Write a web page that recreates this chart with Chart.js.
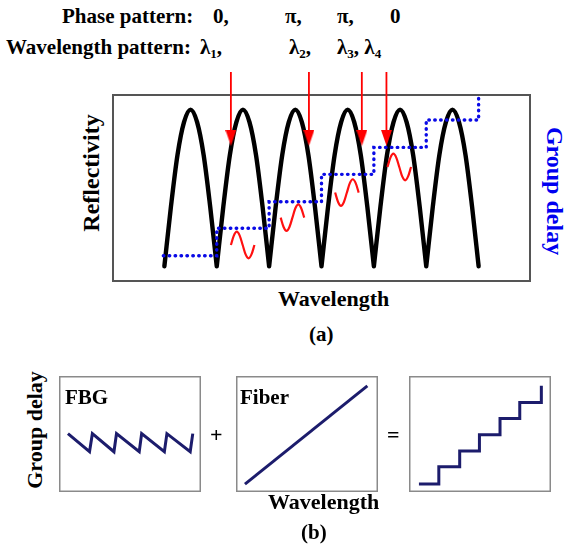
<!DOCTYPE html>
<html>
<head>
<meta charset="utf-8">
<script src="https://cdn.jsdelivr.net/npm/chart.js@4"></script>
<style>
    body { margin: 0; width: 564px; height: 548px; position: relative; overflow: hidden; background: #fff;
           font-family: "Liberation Serif", "Times New Roman", serif; font-weight: bold; color: #000; }
    .t { position: absolute; white-space: nowrap; }
    .t sub { font-size: 0.62em; vertical-align: baseline; position: relative; top: 0.28em; line-height: 0; }
    .rot { position: absolute; white-space: nowrap; transform-origin: center; }
    canvas { position: absolute; }
</style>
</head>
<body>

<!-- header text -->
<div class="t" style="left:62px; top:6px; font-size:21px; line-height:21px;">Phase pattern:</div>
<div class="t" id="phase-row" style="top:6px; font-size:21px; line-height:21px;"></div>
<div class="t" style="left:6px; top:37px; font-size:21px; line-height:21px;">Wavelength pattern:</div>
<div class="t" style="left:200px; top:37px; font-size:21px; line-height:21px;">λ<sub>1</sub>,</div>
<div class="t" style="left:289px; top:37px; font-size:21px; line-height:21px;">λ<sub>2</sub>,</div>
<div class="t" style="left:337px; top:37px; font-size:21px; line-height:21px;">λ<sub>3</sub>, λ<sub>4</sub></div>

<!-- (a) -->
<canvas id="chartA" width="419" height="218" style="left:112px; top:64px;"></canvas>
<div class="rot" style="left:91px; top:173px; font-size:24px; line-height:24px; transform:translate(-50%,-50%) rotate(-90deg);">Reflectivity</div>
<div class="rot" style="left:555px; top:191px; font-size:24px; line-height:24px; color:#0000f0; transform:translate(-50%,-50%) rotate(90deg);">Group delay</div>
<div class="t" style="left:278px; top:288px; font-size:22px; line-height:22px;">Wavelength</div>
<div class="t" style="left:309px; top:324px; font-size:21px; line-height:21px;">(a)</div>

<!-- (b) -->
<canvas id="chartFbg" width="142" height="116" style="left:59px; top:376px;"></canvas>
<canvas id="chartFiber" width="142" height="116" style="left:236px; top:376px;"></canvas>
<canvas id="chartSum" width="142" height="116" style="left:409px; top:376px;"></canvas>
<div class="t" style="left:65px; top:387px; font-size:21px; line-height:21px;">FBG</div>
<div class="t" style="left:240px; top:387px; font-size:21px; line-height:21px;">Fiber</div>
<div class="t" style="left:210px; top:424px; font-size:22px; line-height:22px;">+</div>
<div class="t" style="left:387px; top:424px; font-size:22px; line-height:22px;">=</div>
<div class="rot" style="left:35px; top:430px; font-size:22px; line-height:22px; transform:translate(-50%,-50%) rotate(-90deg);">Group delay</div>
<div class="t" style="left:268px; top:491px; font-size:22px; line-height:22px;">Wavelength</div>
<div class="t" style="left:301px; top:522px; font-size:21px; line-height:21px;">(b)</div>

<script>
// ---- (a) data, wavelength in units of the grating period ----
const lobeStarts = [0, 1, 2, 3, 4, 5];
const lobeSteps = [0, 0.125, 0.25, 0.375, 0.5, 0.625, 0.75, 0.875, 1];
const lobeShape = [0, 0.38, 0.71, 0.92, 1, 0.92, 0.71, 0.38, 0];

const delayStepX = [-0.02, 1, 2, 3, 4, 5, 6];
const delayStepY = [0.068, 0.243, 0.412, 0.587, 0.759, 0.934, 1.072];

const phasePattern = ['0', 'π', 'π', '0'];
const phaseLeft = [213, 285, 337, 390];
const phaseSign = [1, -1, -1, 1];

const lambdaX = [1.27, 2.76, 3.77, 4.24];
const arrowTop = 1.24;
const arrowHeadY = 0.82;

const wiggleStart = [1.27, 2.22, 3.26, 4.26];
const wiggleMid = [0.136, 0.311, 0.471, 0.634];
const wiggleSteps = [0, 0.056, 0.112, 0.168, 0.225, 0.281, 0.337, 0.393, 0.45];
const wiggleShape = [0, 0.06, 0.085, 0.06, 0, -0.06, -0.085, -0.06, 0];

// ---- (b) data ----
const fbgX = [0.63, 2.15, 2.35, 3.87, 4.05, 5.65, 5.82, 7.42, 7.60, 9.24, 9.42];
const fbgY = [5.03, 3.47, 5.03, 3.47, 5.03, 3.47, 5.03, 3.47, 5.03, 3.47, 5.03];
const fiberX = [0.63, 9.25];
const fiberY = [0.68, 9.15];
const sumX = [0.70, 2.10, 3.57, 4.96, 6.41, 7.80, 9.32];
const sumY = [0.68, 2.17, 3.53, 4.93, 6.33, 7.72, 9.15];

document.getElementById('phase-row').innerHTML = phasePattern
    .map((p, i) => `<span style="position:absolute; left:${phaseLeft[i]}px;">${p}${i < 3 ? ',' : ''}</span>`)
    .join('');

// draws the box round the plot area
const framePlugin = {
    id: 'frame',
    beforeDatasetsDraw(chart, args, opts) {
        const { ctx, chartArea: a } = chart;
        const w = opts.width || 1;
        ctx.save();
        ctx.strokeStyle = opts.color || '#000';
        ctx.lineWidth = w;
        ctx.strokeRect(a.left + w / 2, a.top + w / 2, a.right - a.left - w, a.bottom - a.top - w);
        ctx.restore();
    }
};

const baseOptions = (xmin, xmax, ymin, ymax, frame, padTop) => ({
    responsive: false,
    animation: false,
    devicePixelRatio: 1,
    events: [],
    layout: { autoPadding: false, padding: { top: padTop || 0, left: 0, right: 0, bottom: 0 } },
    plugins: { legend: { display: false }, tooltip: { enabled: false }, frame: frame },
    scales: {
        x: { type: 'linear', min: xmin, max: xmax, display: false },
        y: { type: 'linear', min: ymin, max: ymax, display: false }
    }
});

// arrow head image used as point style
const arrowHead = document.createElement('canvas');
arrowHead.width = 11;
arrowHead.height = 16;
const ah = arrowHead.getContext('2d');
ah.fillStyle = '#ff0000';
ah.beginPath();
ah.moveTo(0, 0);
ah.lineTo(11, 0);
ah.lineTo(5.5, 16);
ah.closePath();
ah.fill();

// build datasets
const archData = [];
lobeStarts.forEach(s => {
    lobeSteps.forEach((f, i) => archData.push({ x: s + f, y: lobeShape[i] }));
    archData.push({ x: s + 1, y: null });
});

const delayData = delayStepX.map((x, i) => ({ x: x, y: delayStepY[i] }));

const stemData = [];
lambdaX.forEach(x => {
    stemData.push({ x: x, y: arrowTop });
    stemData.push({ x: x, y: arrowHeadY });
    stemData.push({ x: x, y: null });
});

const wiggleData = [];
wiggleStart.forEach((x0, k) => {
    wiggleSteps.forEach((f, i) => wiggleData.push({ x: x0 + f, y: wiggleMid[k] + phaseSign[k] * wiggleShape[i] }));
    wiggleData.push({ x: x0 + 0.45, y: null });
});

new Chart(document.getElementById('chartA'), {
    type: 'line',
    data: {
        datasets: [
            {
                data: lambdaX.map(x => ({ x: x, y: arrowHeadY })),
                showLine: false, pointStyle: arrowHead, pointRadius: 8, order: 0
            },
            {
                data: stemData, borderColor: '#ff0000', borderWidth: 1.8,
                pointRadius: 0, clip: false, order: 1
            },
            {
                data: wiggleData, borderColor: '#ff1010', borderWidth: 2.2,
                pointRadius: 0, cubicInterpolationMode: 'monotone', order: 1
            },
            {
                data: delayData, borderColor: '#0a0ae6', borderWidth: 3.4,
                borderDash: [0.5, 5.4], borderCapStyle: 'round', stepped: 'before',
                pointRadius: 0, clip: false, order: 2
            },
            {
                data: archData, borderColor: '#000', borderWidth: 4.4,
                borderCapStyle: 'round', cubicInterpolationMode: 'monotone',
                pointRadius: 0, order: 3
            }
        ]
    },
    options: baseOptions(-1, 7, -0.1, 1.1, { color: '#555', width: 2 }, 30),
    plugins: [framePlugin]
});

const smallLine = (id, xs, ys, stepped) => new Chart(document.getElementById(id), {
    type: 'line',
    data: {
        datasets: [{
            data: xs.map((x, i) => ({ x: x, y: ys[i] })),
            borderColor: '#1c1c6c', borderWidth: 3, pointRadius: 0,
            stepped: stepped || false, borderJoinStyle: 'miter'
        }]
    },
    options: baseOptions(0, 10, 0, 10, { color: '#8a8a8a', width: 1.5 }),
    plugins: [framePlugin]
});

smallLine('chartFbg', fbgX, fbgY);
smallLine('chartFiber', fiberX, fiberY);
smallLine('chartSum', sumX, sumY, 'before');
</script>
</body>
</html>
